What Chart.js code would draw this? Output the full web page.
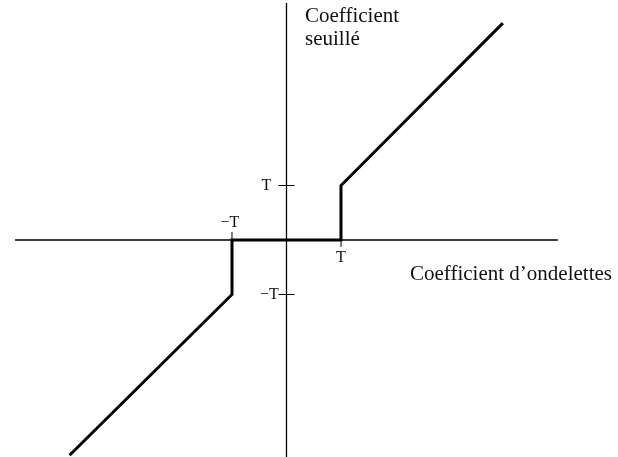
<!DOCTYPE html>
<html>
<head>
<meta charset="utf-8">
<script src="https://cdn.jsdelivr.net/npm/chart.js@4/dist/chart.umd.min.js"></script>
<style>
  body { margin: 0; background: #fff; }
  canvas { display: block; }
</style>
</head>
<body>
<canvas id="seuilChart" width="618" height="457"></canvas>
<script>
// Hard thresholding curve, in units of T
const curveX = [-3.98, -1, -1, 0, 1, 1, 3.97];
const curveY = [-3.95, -1, 0, 0, 0, 1, 3.98];

// axes extents
const axisXRange = [-4.98, 4.98];
const axisYRange = [-4.2, 4.35];

// tick values and labels
const xTickValues = [-1, 1];
const xTickLabels = ['\u2212T', 'T'];
const yTickValues = [1, -1];
const yTickLabels = ['T', '\u2212T'];

const xTitle = 'Coefficient d\u2019ondelettes';
const yTitle = ['Coefficient', 'seuill\u00e9'];

document.addEventListener('DOMContentLoaded', function () {
    const ctx = document.getElementById('seuilChart').getContext('2d');
    const serif = '"Liberation Serif", "Times New Roman", serif';

    // ticks, tick labels and axis titles
    const decorPlugin = {
        id: 'decor',
        afterDatasetsDraw(chart) {
            const c = chart.ctx;
            const xs = chart.scales.x, ys = chart.scales.y;
            const x0 = xs.getPixelForValue(0), y0 = ys.getPixelForValue(0);
            c.save();
            c.strokeStyle = '#000';
            c.lineWidth = 1;
            c.fillStyle = '#111';
            c.font = '16px ' + serif;
            c.textAlign = 'center';
            c.textBaseline = 'middle';

            xTickValues.forEach(function (v, i) {
                const px = xs.getPixelForValue(v);
                const up = v < 0;
                c.beginPath();
                c.moveTo(px, y0);
                c.lineTo(px, up ? y0 - 8 : y0 + 7);
                c.stroke();
                c.fillText(xTickLabels[i], px - (up ? 2 : 0), up ? y0 - 17 : y0 + 18);
            });

            yTickValues.forEach(function (v, i) {
                const py = ys.getPixelForValue(v);
                c.beginPath();
                c.moveTo(x0 - 8, py);
                c.lineTo(x0 + 8, py);
                c.stroke();
                c.fillText(yTickLabels[i], x0 - (v < 0 ? 17 : 20), py);
            });

            c.font = '21px ' + serif;
            c.textAlign = 'left';
            c.textBaseline = 'alphabetic';
            c.fillText(xTitle, 410, 280);
            c.fillText(yTitle[0], 305, 22);
            c.fillText(yTitle[1], 305, 45);
            c.restore();
        }
    };

    new Chart(ctx, {
        type: 'scatter',
        data: {
            datasets: [{
                data: axisXRange.map(function (x) { return { x: x, y: 0 }; }),
                showLine: true,
                borderColor: '#000',
                borderWidth: 1.5,
                pointRadius: 0
            }, {
                data: axisYRange.map(function (y) { return { x: 0, y: y }; }),
                showLine: true,
                borderColor: '#000',
                borderWidth: 1.3,
                pointRadius: 0
            }, {
                data: curveX.map(function (x, i) { return { x: x, y: curveY[i] }; }),
                showLine: true,
                borderColor: '#000',
                borderWidth: 3,
                borderJoinStyle: 'miter',
                pointRadius: 0
            }]
        },
        options: {
            responsive: false,
            animation: false,
            layout: { padding: 0 },
            scales: {
                x: { type: 'linear', min: -5.257, max: 6.083, display: false },
                y: { type: 'linear', min: -3.982, max: 4.404, display: false }
            },
            plugins: {
                legend: { display: false },
                tooltip: { enabled: false }
            }
        },
        plugins: [decorPlugin]
    });
});
</script>
</body>
</html>
